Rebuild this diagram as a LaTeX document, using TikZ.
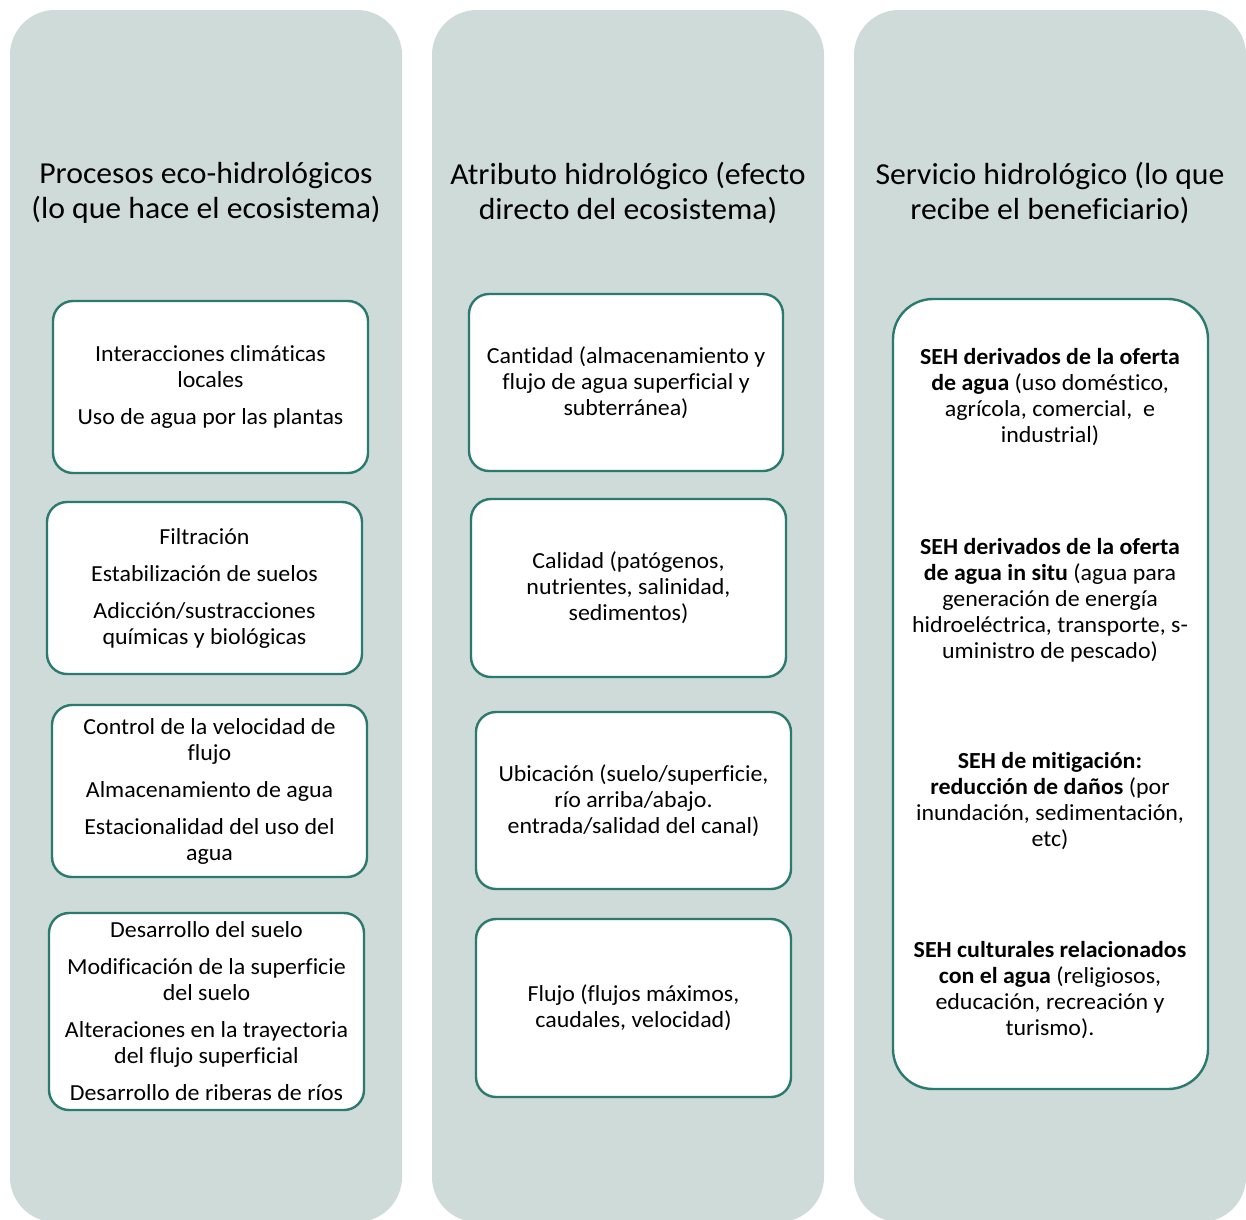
\documentclass[tikz,border=0pt]{standalone}
\usepackage{fontspec}
\setmainfont{Carlito}[FakeStretch=1.04, Ligatures=NoCommon]
\definecolor{panelfill}{HTML}{CEDBD8}
\definecolor{cardline}{HTML}{2B7A70}
\begin{document}
\begin{tikzpicture}[x=1pt,y=-1pt,
  panel/.style={fill=panelfill, rounded corners=45pt},
  card/.style={draw=cardline, line width=2.4pt, fill=white, rounded corners=20pt,
    align=center, inner sep=0pt, font=\fontsize{23}{26}\selectfont, text=black},
  coltitle/.style={align=center, inner sep=0pt, font=\fontsize{30.5}{35}\selectfont, text=black},
  body/.style={align=center, inner sep=0pt, font=\fontsize{23}{26}\selectfont, text=black}]
\useasboundingbox (0,0) rectangle (1246,1219);
\begin{scope}
\clip (0,0) rectangle (1246,1219);
% three column panels
\fill[panel] (10,10) rectangle (402,1222);
\fill[panel] (432,10) rectangle (824,1222);
\fill[panel] (854,10) rectangle (1246,1222);
\end{scope}

% column headings
\node[coltitle] (t1) at (206,193) {Procesos eco-hidrológicos\\(lo que hace el ecosistema)};
\node[coltitle] (t2) at (628,193) {Atributo hidrológico (efecto\\directo del ecosistema)};
\node[coltitle] (t3) at (1050,193) {Servicio hidrológico (lo que\\recibe el beneficiario)};

% eco-hydrological processes
\node[card, minimum width=315pt, minimum height=172pt] (p1) at (210.5,387)
  {Interacciones climáticas\\locales\\[11pt]Uso de agua por las plantas};
\node[card, minimum width=315pt, minimum height=172pt] (p2) at (204.5,588)
  {Filtración\\[11pt]Estabilización de suelos\\[11pt]Adicción/sustracciones\\químicas y biológicas};
\node[card, minimum width=315pt, minimum height=172pt] (p3) at (209.5,791)
  {Control de la velocidad de\\flujo\\[11pt]Almacenamiento de agua\\[11pt]Estacionalidad del uso del\\agua};
\node[card, minimum width=315pt, minimum height=197pt] (p4) at (206.5,1011.5)
  {Desarrollo del suelo\\[11pt]Modificación de la superficie\\del suelo\\[11pt]Alteraciones en la trayectoria\\del flujo superficial\\[11pt]Desarrollo de riberas de ríos};

% hydrological attributes
\node[card, minimum width=314pt, minimum height=177pt] (a1) at (626,382.5)
  {Cantidad (almacenamiento y\\flujo de agua superficial y\\subterránea)};
\node[card, minimum width=315pt, minimum height=178pt] (a2) at (628.5,588)
  {Calidad (patógenos,\\nutrientes, salinidad,\\sedimentos)};
\node[card, minimum width=315pt, minimum height=177pt] (a3) at (633.5,800.5)
  {Ubicación (suelo/superficie,\\río arriba/abajo.\\entrada/salidad del canal)};
\node[card, minimum width=315pt, minimum height=178pt] (a4) at (633.5,1008)
  {Flujo (flujos máximos,\\caudales, velocidad)};

% hydrological services
\node[card, rounded corners=40pt, minimum width=315pt, minimum height=790pt] (s) at (1050.5,694) {};
\node[body] (s1) at (1050,397)
  {\textbf{SEH derivados de la oferta}\\\textbf{de agua} (uso doméstico,\\agrícola, comercial,~ e\\industrial)};
\node[body] (s2) at (1050,600)
  {\textbf{SEH derivados de la oferta}\\\textbf{de agua in situ} (agua para\\generación de energía\\hidroeléctrica, transporte, s-\\uministro de pescado)};
\node[body] (s3) at (1050,801)
  {\textbf{SEH de mitigación:}\\\textbf{reducción de daños} (por\\inundación, sedimentación,\\etc)};
\node[body] (s4) at (1050,990)
  {\textbf{SEH culturales relacionados}\\\textbf{con el agua} (religiosos,\\educación, recreación y\\turismo).};
\end{tikzpicture}
\end{document}
